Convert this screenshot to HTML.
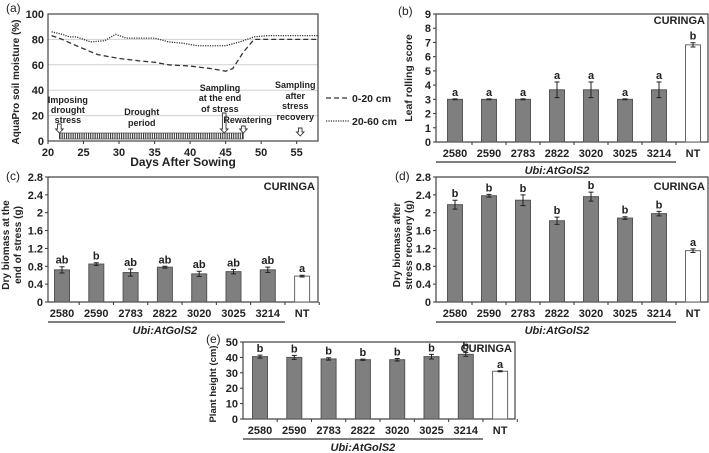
<!DOCTYPE html>
<html><head><meta charset="utf-8">
<style>
body{margin:0;background:#fff;}
svg{display:block;font-family:"Liberation Sans",Arial,sans-serif;}
text{font-weight:bold;fill:#222;}
</style></head>
<body>
<svg id="fig" width="709" height="453" viewBox="0 0 709 453" xmlns="http://www.w3.org/2000/svg"></svg>
<script>
// ---- data ----
const lineDays = [20.5,22,24,27,30,33,35,37,40,43,45,46,47.5,49,52,55,58];
const shallowMoisture = [83,80,75,68,65,63,62,60,59,57,55,57,70,80,80,80,80];
const deepDays = [20.5,22,23,24,26,28,29.5,31,35,37,39,41,43,45,47,49,51,55,58];
const deepMoisture = [86,84,82,82,78,79,84,81,81,78,77,75,75,75,78,82,83,83,83];
const aTicksX = [20,25,30,35,40,45,50,55];
const aTicksY = [0,20,40,60,80,100];
const categories = ["2580","2590","2783","2822","3020","3025","3214","NT"];
const leafScore = [3,3,3,3.67,3.67,3,3.67,6.83];
const leafErr = [0.03,0.03,0.03,0.55,0.55,0.03,0.55,0.15];
const leafLetters = ["a","a","a","a","a","a","a","b"];
const bTicks = [0,1,2,3,4,5,6,7,8,9];
const stressBiomass = [0.72,0.85,0.66,0.78,0.63,0.68,0.72,0.58];
const stressErr = [0.07,0.03,0.08,0.02,0.06,0.05,0.06,0.02];
const stressLetters = ["ab","b","ab","ab","ab","ab","ab","a"];
const recoveryBiomass = [2.18,2.38,2.28,1.82,2.36,1.88,1.98,1.15];
const recoveryErr = [0.1,0.03,0.12,0.08,0.1,0.03,0.05,0.04];
const recoveryLetters = ["b","b","b","b","b","b","b","a"];
const cdTicks = [0,0.4,0.8,1.2,1.6,2,2.4,2.8];
const plantHeight = [40.5,40,39,38.5,38.5,40.5,42,31];
const heightErr = [1,1.3,0.8,0.4,0.8,1.5,1.3,0.3];
const heightLetters = ["b","b","b","b","b","b","b","a"];
const eTicks = [0,10,20,30,40,50];

const svg = document.getElementById('fig');
const NS = "http://www.w3.org/2000/svg";
function mk(tag, attrs, parent, txt){
  const e = document.createElementNS(NS, tag);
  for (const k in attrs) e.setAttribute(k, attrs[k]);
  if (txt !== undefined) e.textContent = txt;
  (parent||svg).appendChild(e);
  return e;
}

// ---- Panel a ----
(function(){
  const g = mk('g',{});
  
  
  const L=48,R=318,T=14,B=141, x0=20,x1=58;
  const sx=d=>L+(d-x0)/(x1-x0)*(R-L);
  const sy=v=>B-v/100*(B-T);
  const defs=mk('defs',{});
  const pat=mk('pattern',{id:'hatch',width:2.2,height:4,patternUnits:'userSpaceOnUse'},defs);
  mk('rect',{x:0,y:0,width:1.1,height:4,fill:'#333'},pat);
  aTicksY.forEach(v=>{
    if(v>0&&v<100){const gl=mk('line',{x1:L,x2:R,y1:sy(v),y2:sy(v),stroke:'#d0d0d0','stroke-width':1},g);
      }
    const t=mk('text',{x:L-4,y:sy(v)+4,'text-anchor':'end','font-size':11},g,v);
    
  });
  aTicksX.forEach(d=>{
    mk('line',{x1:sx(d),x2:sx(d),y1:B,y2:B+3,stroke:'#333'},g);
    const t=mk('text',{x:sx(d),y:B+15,'text-anchor':'middle','font-size':11},g,d);
    
  });
  const box=mk('rect',{x:L,y:T,width:R-L,height:B-T,fill:'none',stroke:'#444','stroke-width':1.2},g);
  
  const p1=mk('path',{d:lineDays.map((d,i)=>(i?'L':'M')+sx(d)+','+sy(shallowMoisture[i])).join(''),fill:'none',stroke:'#333','stroke-width':1.3,'stroke-dasharray':'5,3'},g);
  
  const p2=mk('path',{d:deepDays.map((d,i)=>(i?'L':'M')+sx(d)+','+sy(deepMoisture[i])).join(''),fill:'none',stroke:'#333','stroke-width':1.3,'stroke-dasharray':'1.2,1.2'},g);
  
  const hb=mk('rect',{x:sx(21.6),y:133,width:sx(47.5)-sx(21.6),height:6,fill:'url(#hatch)',stroke:'#333','stroke-width':0.6},g);
  
  [[21.6,124,133],[44.8,113,133],[47.5,126,133],[55.5,128,136]].forEach(([d,top,tip])=>{
    const x=sx(d), a=mk('path',{d:`M${x-1.8},${top}L${x-1.8},${tip-4}L${x-3.8},${tip-4}L${x},${tip}L${x+3.8},${tip-4}L${x+1.8},${tip-4}L${x+1.8},${top}Z`,fill:'#fff',stroke:'#333','stroke-width':0.9},g);
    
  });
  const labs=[[sx(22.8),[['Imposing',103],['drought',113],['stress',123]]],
              [sx(33.2),[['Drought',115],['period',126]]],
              [sx(44.2),[['Sampling',91],['at the end',101],['of stress',112]]],
              [sx(48.1),[['Rewatering',123]]],
              [sx(54.8),[['Sampling',88],['after',99],['stress',109],['recovery',120]]]];
  labs.forEach(([x,ls])=>ls.forEach(([s,y])=>{const t=mk('text',{x:x,y:y,'text-anchor':'middle','font-size':9},g,s);
    }));
  let t=mk('text',{x:183,y:166,'text-anchor':'middle','font-size':12},g,'Days After Sowing');
  
  t=mk('text',{x:0,y:0,'text-anchor':'middle','font-size':10,transform:`translate(19,82) rotate(-90)`},g,'AquaPro soil moisture (%)');
  
  t=mk('text',{x:6,y:12,'font-size':12,style:'font-weight:normal'},g,'(a)');
  
  let l=mk('line',{x1:326,x2:349,y1:98,y2:98,stroke:'#333','stroke-width':1.3,'stroke-dasharray':'5,3'},g);
  
  t=mk('text',{x:352,y:102,'font-size':10.5},g,'0-20 cm');
  
  l=mk('line',{x1:326,x2:349,y1:121,y2:121,stroke:'#333','stroke-width':1.3,'stroke-dasharray':'1.2,1.2'},g);
  
  t=mk('text',{x:352,y:125,'font-size':10.5},g,'20-60 cm');
  
})();

// ---- bar panels ----
function barPanel(cfg, values, errs, letters, ticks){
  const g=mk('g',{});
  
  
  const {L,R,T,B,max,x0,step,bw}=cfg;
  const sy=v=>B-v/max*(B-T);
  ticks.forEach(v=>{
    mk('line',{x1:L-3,x2:L,y1:sy(v),y2:sy(v),stroke:'#333'},g);
    const t=mk('text',{x:L-5,y:sy(v)+4,'text-anchor':'end','font-size':11},g,v);
    
  });
  const fr=mk('path',{d:`M${L},${T}L${L},${B}L${R},${B}L${R},${T}L${L},${T}`,fill:'none',stroke:'#444','stroke-width':1.2},g);
  
  categories.forEach((c,i)=>{
    const cx=x0+i*step, nt=i===categories.length-1;
    mk('line',{x1:cx+step/2,x2:cx+step/2,y1:B,y2:B+3,stroke:'#333'},g);
    const r=mk('rect',{x:cx-bw/2,y:sy(values[i]),width:bw,height:B-sy(values[i]),fill:nt?'#fff':'#7f7f7f',stroke:nt?'#666':'#555','stroke-width':1},g);
    
    const e1=sy(values[i]+errs[i]), e2=sy(values[i]-errs[i]);
    const eb=mk('path',{d:`M${cx},${e1}L${cx},${e2}M${cx-2.5},${e1}L${cx+2.5},${e1}M${cx-2.5},${e2}L${cx+2.5},${e2}`,stroke:'#222','stroke-width':1,fill:'none'},g);
    
    let t=mk('text',{x:cx,y:e1-3,'text-anchor':'middle','font-size':11},g,letters[i]);
    
    t=mk('text',{x:cx,y:B+15,'text-anchor':'middle','font-size':11},g,c);
    
  });
  const ul=mk('line',{x1:L,x2:x0+6.5*step,y1:B+20,y2:B+20,stroke:'#333','stroke-width':1.2},g);
  
  let t=mk('text',{x:x0+3*step,y:B+32,'text-anchor':'middle','font-size':11,'font-style':'italic'},g,'Ubi:AtGolS2');
  
  t=mk('text',{x:R-3,y:cfg.cuy,'text-anchor':'end','font-size':11},g,'CURINGA');
  
  t=mk('text',{x:cfg.px,y:cfg.py,'font-size':12,style:'font-weight:normal'},g,cfg.panel);
  
  cfg.title.forEach((s,k)=>{
    const tt=mk('text',{x:0,y:0,'text-anchor':'middle','font-size':cfg.tf,transform:`translate(${cfg.tx+k*12},${cfg.ty||(T+B)/2}) rotate(-90)`},g,s);
    
  });
}
barPanel({name:'panel-b-leaf-rolling',L:436,R:708,T:14,B:142,max:9,x0:455,step:34,bw:15,cuy:24,px:398,py:15,panel:'(b)',tx:412,tf:10.5,title:['Leaf  rolling score']},leafScore,leafErr,leafLetters,bTicks);
barPanel({name:'panel-c-biomass-stress',L:48,R:318,T:177,B:302,max:2.8,x0:62,step:34.3,bw:15,cuy:190,px:6,py:180,panel:'(c)',tx:9,tf:10,ty:245,title:['Dry biomass at the','end of stress (g)']},stressBiomass,stressErr,stressLetters,cdTicks);
barPanel({name:'panel-d-biomass-recovery',L:436,R:708,T:177,B:302,max:2.8,x0:455,step:34,bw:15,cuy:190,px:395,py:180,panel:'(d)',tx:400,tf:10,ty:245,title:['Dry biomass after','stress recovery (g)']},recoveryBiomass,recoveryErr,recoveryLetters,cdTicks);
barPanel({name:'panel-e-plant-height',L:243,R:515,T:342,B:419,max:50,x0:260,step:34.3,bw:15,cuy:352,px:206,py:343,panel:'(e)',tx:216,tf:9.5,ty:384,title:['Plant height (cm)']},plantHeight,heightErr,heightLetters,eTicks);
</script>
</body></html>
